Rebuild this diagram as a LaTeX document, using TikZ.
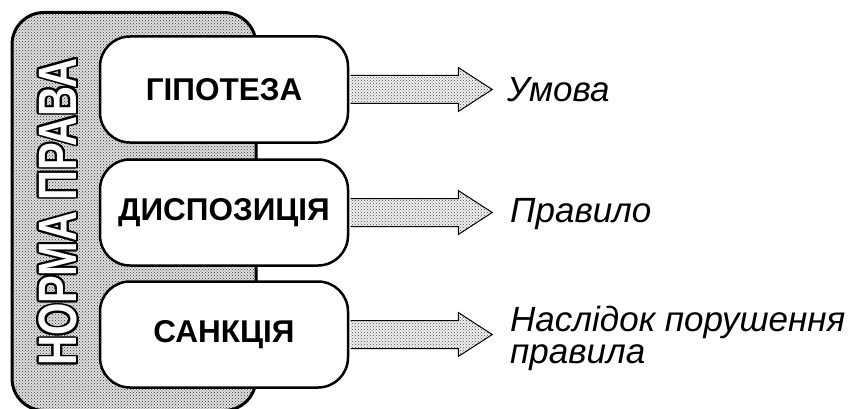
\documentclass[tikz,border=0pt]{standalone}
\usepackage{fontspec}
\setmainfont{Liberation Sans}
\usepackage[copies]{contour}
\contourlength{2.2pt}
\usetikzlibrary{calc,patterns}
\begin{document}
\begin{tikzpicture}[x=1pt,y=-1pt,
  frame/.style={draw=black, line width=3pt, rounded corners=32pt,
    preaction={fill=gray!25}, pattern=crosshatch dots, pattern color=black!80,
    minimum width=244pt, minimum height=398pt, inner sep=0pt},
  partbox/.style={draw=black, line width=2.5pt, rounded corners=30pt, fill=white,
    minimum width=248pt, minimum height=106pt, inner sep=0pt,
    font=\fontsize{31.5}{36}\selectfont\bfseries},
  arrowfill/.style={preaction={fill=gray!12}, pattern=crosshatch dots, pattern color=black!70},
  arrowline/.style={draw=black, line width=1pt, line join=miter},
  result/.style={anchor=base west, inner sep=0pt, font=\fontsize{35}{31}\selectfont\itshape}]
\useasboundingbox (0,0) rectangle (856,409);
\node[frame] (fr) at (134,211.5) {};
\node (title) at (59,212) {\rotatebox{90}{\scalebox{0.77}[1]{\fontsize{54}{60}\selectfont\bfseries\contour{black}{\textcolor{white}{НОРМА ПРАВА}}}}};
\node[partbox] (g) at (224,89.5) {ГІПОТЕЗА};
\node[partbox] (d) at (224,212.5) {ДИСПОЗИЦІЯ};
\node[partbox] (s) at (224,334.5) {САНКЦІЯ};
\foreach \b in {g,d,s}{
  \path[arrowfill] ($(\b.east)+(1.3,-14)$) -- ($(\b.east)+(109,-14)$) -- ($(\b.east)+(109,-22)$)
     -- ($(\b.east)+(143,0)$) -- ($(\b.east)+(109,22)$) -- ($(\b.east)+(109,14)$)
     -- ($(\b.east)+(1.3,14)$) -- cycle;
  \draw[arrowline] ($(\b.east)+(1.3,-14)$) -- ($(\b.east)+(109,-14)$) -- ($(\b.east)+(109,-22)$)
     -- ($(\b.east)+(143,0)$) -- ($(\b.east)+(109,22)$) -- ($(\b.east)+(109,14)$)
     -- ($(\b.east)+(1.3,14)$);
}
\node[result] (r1) at (507,102) {Умова};
\node[result] (r2) at (510,222) {Правило};
\node[result, text depth=3pt] (r3) at (510,331) {Наслідок порушення};
\node[result, text height=19pt] (r4) at (510,363) {правила};
\end{tikzpicture}
\end{document}
